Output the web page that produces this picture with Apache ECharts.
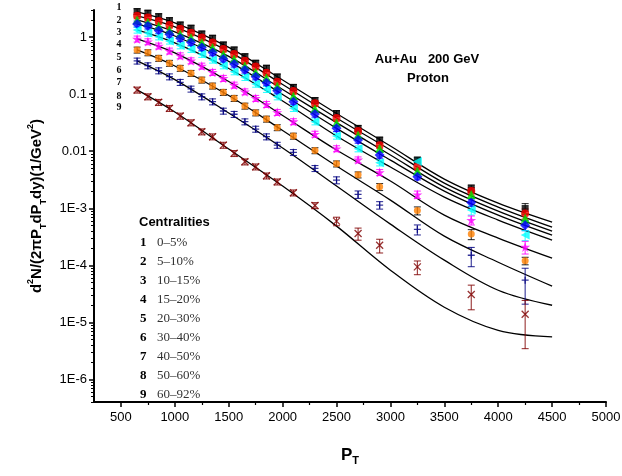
<!DOCTYPE html>
<html>
<head>
<meta charset="utf-8">
<script src="https://cdn.jsdelivr.net/npm/echarts@6/dist/echarts.min.js"></script>
<style>
html, body { margin: 0; padding: 0; background: #fff; }
#chart { width: 622px; height: 476px; }
</style>
</head>
<body>
<div id="chart"></div>
<script>
// Proton transverse-momentum spectra, Au+Au at 200 GeV, nine centrality classes.
const pt = [650, 750, 850, 950, 1050, 1150, 1250, 1350, 1450, 1550, 1650, 1750, 1850, 1950,
            2100, 2300, 2500, 2700, 2900, 3250, 3750, 4250];

const centralities = ['0\u20135%', '5\u201310%', '10\u201315%', '15\u201320%', '20\u201330%',
                      '30\u201340%', '40\u201350%', '50\u201360%', '60\u201392%'];

// measured invariant yields (1/GeV^2)
const y0_5   = [2.82, 2.64, 2.30, 1.96, 1.64, 1.44, 1.14, 0.96, 0.732, 0.598, 0.456, 0.350, 0.286, 0.201, 0.132, 0.0777, 0.0459, 0.0252, 0.0157, 0.0070, 0.00223, 0.00099];
const y5_10  = [2.39, 2.21, 1.93, 1.64, 1.40, 1.20, 0.984, 0.804, 0.623, 0.509, 0.388, 0.305, 0.239, 0.166, 0.114, 0.0694, 0.0383, 0.0226, 0.0128, 0.00534, 0.0020, 0.00081];
const y10_15 = [2.01, 1.83, 1.58, 1.34, 1.14, 0.984, 0.804, 0.657, 0.503, 0.416, 0.317, 0.243, 0.195, 0.140, 0.0932, 0.0557, 0.0317, 0.0193, 0.0112, 0.00449, 0.00175, 0.00067];
const y15_20 = [1.71, 1.58, 1.31, 1.13, 0.96, 0.817, 0.657, 0.537, 0.416, 0.340, 0.267, 0.203, 0.1595, 0.1154, 0.0740, 0.0450, 0.0252, 0.0157, 0.00858, 0.00357, 0.00126, 0.000506];
const y20_30 = [1.34, 1.18, 1.02, 0.861, 0.712, 0.616, 0.503, 0.399, 0.317, 0.249, 0.198, 0.151, 0.122, 0.0906, 0.0566, 0.0330, 0.0185, 0.0111, 0.00628, 0.00659, 0.000928, 0.000338];
const y30_40 = [0.934, 0.837, 0.704, 0.575, 0.475, 0.388, 0.313, 0.243, 0.1906, 0.1453, 0.1109, 0.0849, 0.0666, 0.0482, 0.0332, 0.0200, 0.01115, 0.00709, 0.00426, 0.00174, 0.00062, 0.00021];
const y40_50 = [0.598, 0.537, 0.428, 0.350, 0.286, 0.233, 0.178, 0.140, 0.1082, 0.0849, 0.0622, 0.0474, 0.0368, 0.0261, 0.0185, 0.01029, 0.00603, 0.00387, 0.00238, 0.00091, 0.000352, 0.000120];
const y50_60 = [0.384, 0.317, 0.259, 0.203, 0.162, 0.1237, 0.0906, 0.0740, 0.0508, 0.0445, 0.0330, 0.0245, 0.0180, 0.0128, 0.00957, 0.00501, 0.00312, 0.00175, 0.001136, 0.000425, 0.000150, 0.0000547];
const y60_92 = [0.1188, 0.0906, 0.0722, 0.0566, 0.0415, 0.0317, 0.0220, 0.0180, 0.0128, 0.00919, 0.00654, 0.00534, 0.00371, 0.00291, 0.00187, 0.00112, 0.000595, 0.000362, 0.000225, 0.0000937, 0.0000307, 0.0000138];

// relative uncertainties of the yields
const e0_5   = [0.12, 0.12, 0.12, 0.12, 0.12, 0.12, 0.12, 0.12, 0.12, 0.12, 0.12, 0.12, 0.12, 0.12, 0.12, 0.12, 0.12, 0.12, 0.12, 0.12, 0.15, 0.22];
const e5_10  = [0.12, 0.12, 0.12, 0.12, 0.12, 0.12, 0.12, 0.12, 0.12, 0.12, 0.12, 0.12, 0.12, 0.12, 0.12, 0.12, 0.12, 0.12, 0.12, 0.12, 0.15, 0.2];
const e10_15 = [0.12, 0.12, 0.12, 0.12, 0.12, 0.12, 0.12, 0.12, 0.12, 0.12, 0.12, 0.12, 0.12, 0.12, 0.12, 0.12, 0.12, 0.12, 0.12, 0.12, 0.15, 0.2];
const e15_20 = [0.12, 0.12, 0.12, 0.12, 0.12, 0.12, 0.12, 0.12, 0.12, 0.12, 0.12, 0.12, 0.12, 0.12, 0.12, 0.12, 0.12, 0.12, 0.12, 0.12, 0.15, 0.2];
const e20_30 = [0.12, 0.12, 0.12, 0.12, 0.12, 0.12, 0.12, 0.12, 0.12, 0.12, 0.12, 0.12, 0.12, 0.12, 0.12, 0.12, 0.12, 0.12, 0.12, 0.15, 0.18, 0.2];
const e30_40 = [0.12, 0.12, 0.12, 0.12, 0.12, 0.12, 0.12, 0.12, 0.12, 0.12, 0.12, 0.12, 0.12, 0.12, 0.12, 0.12, 0.12, 0.12, 0.12, 0.15, 0.18, 0.25];
const e40_50 = [0.12, 0.12, 0.12, 0.12, 0.12, 0.12, 0.12, 0.12, 0.12, 0.12, 0.12, 0.12, 0.12, 0.12, 0.12, 0.12, 0.12, 0.12, 0.14, 0.16, 0.2, 0.15];
const e50_60 = [0.12, 0.12, 0.12, 0.12, 0.12, 0.12, 0.12, 0.12, 0.12, 0.12, 0.12, 0.12, 0.12, 0.12, 0.12, 0.12, 0.14, 0.15, 0.15, 0.2, 0.37, 0.62];
const e60_92 = [0.12, 0.12, 0.12, 0.12, 0.12, 0.12, 0.12, 0.12, 0.12, 0.12, 0.12, 0.12, 0.12, 0.12, 0.12, 0.12, 0.17, 0.24, 0.27, 0.27, 0.46, 0.75];

// fitted model curves, sampled along pT
const fitPt = [650, 1000, 1500, 2000, 2500, 3000, 3500, 4000, 4500];
const f0_5   = [2.78, 1.78, 0.662, 0.178, 0.0459, 0.01234, 0.00325, 0.00123, 0.000571];
const f5_10  = [2.37, 1.52, 0.563, 0.148, 0.0383, 0.0105, 0.00276, 0.00105, 0.000467];
const f10_15 = [2.01, 1.24, 0.460, 0.121, 0.0317, 0.00858, 0.00235, 0.00089, 0.000397];
const f15_20 = [1.71, 1.05, 0.376, 0.099, 0.0252, 0.0070, 0.0020, 0.000758, 0.000338];
const f20_30 = [1.34, 0.794, 0.283, 0.0761, 0.0185, 0.00528, 0.00157, 0.00062, 0.000276];
const f30_40 = [0.934, 0.530, 0.1675, 0.0423, 0.0105, 0.0030, 0.000758, 0.000299, 0.000133];
const f40_50 = [0.598, 0.313, 0.0951, 0.0231, 0.0055, 0.00139, 0.000324, 0.000113, 0.0000430];
const f50_60 = [0.384, 0.18, 0.0469, 0.01138, 0.00245, 0.000527, 0.000123, 0.0000365, 0.0000199];
const f60_92 = [0.119, 0.0488, 0.01093, 0.00245, 0.000486, 0.0000820, 0.0000184, 0.00000725, 0.00000557];

// axis tick labels
const xTickLabels = [500, 1000, 1500, 2000, 2500, 3000, 3500, 4000, 4500, 5000];
const xMinorTicks = [750, 1250, 1750, 2250, 2750, 3250, 3750, 4250, 4750];
const yTickLabels = [1e-6, 1e-5, 1e-4, 1e-3, 0.01, 0.1, 1];

const yields = [y0_5, y5_10, y10_15, y15_20, y20_30, y30_40, y40_50, y50_60, y60_92];
const errs   = [e0_5, e5_10, e10_15, e15_20, e20_30, e30_40, e40_50, e50_60, e60_92];
const fits   = [f0_5, f5_10, f10_15, f15_20, f20_30, f30_40, f40_50, f50_60, f60_92];

const Y_MIN = 4e-7, Y_MAX = 3;

const styles = [
  { color: '#000000', symbol: 'rect', size: 7 },
  { color: '#ff0000', symbol: 'circle', size: 8 },
  { color: '#00e000', symbol: 'triangle', size: 9 },
  { color: '#0000ff', symbol: 'diamond', size: 10 },
  { color: '#00ffff', symbol: 'triangle', size: 9, rotate: 90 },
  { color: '#ff00ff', symbol: 'path://M50,0L61,35L98,35L68,57L79,91L50,70L21,91L32,57L2,35L39,35Z', size: 10 },
  { color: '#ff8000', symbol: 'circle', size: 7, bar: '#000000' },
  { color: '#000080', symbol: 'path://M5,0L5,10M0,5L10,5', size: 7, line: true },
  { color: '#800000', symbol: 'path://M0,0L10,10M10,0L0,10', size: 7, line: true }
];

const yMinor = [];
for (let k = -7; k <= 0; k++) {
  for (let m = 2; m <= 9; m++) {
    const v = m * Math.pow(10, k);
    if (v >= Y_MIN && v <= Y_MAX) yMinor.push(v);
  }
}

function fmtY(v) {
  const e = Math.round(Math.log10(v));
  if (e >= 0) return '1';
  if (e === -1) return '0.1';
  if (e === -2) return '0.01';
  return '1E' + e;
}

function fmtX(v) {
  return String(Math.round(v));
}

function errorBarItem(color) {
  return function (params, api) {
    const x = api.value(0);
    const lo = api.coord([x, api.value(1)]);
    const hi = api.coord([x, api.value(2)]);
    const w = 3.5;
    const st = { stroke: color, lineWidth: 1.1, opacity: 0.8 };
    return {
      type: 'group',
      children: [
        { type: 'line', shape: { x1: lo[0], y1: lo[1], x2: hi[0], y2: hi[1] }, style: st },
        { type: 'line', shape: { x1: lo[0] - w, y1: lo[1], x2: lo[0] + w, y2: lo[1] }, style: st },
        { type: 'line', shape: { x1: hi[0] - w, y1: hi[1], x2: hi[0] + w, y2: hi[1] }, style: st }
      ]
    };
  };
}

const series = [];
fits.forEach(function (f) {
  series.push({
    type: 'line',
    data: fitPt.map(function (x, i) { return [x, f[i]]; }),
    smooth: 0.35,
    symbol: 'none',
    lineStyle: { color: '#000', width: 1.3 },
    z: 2,
    silent: true
  });
});
yields.forEach(function (ys, s) {
  const st = styles[s];
  series.push({
    type: 'custom',
    renderItem: errorBarItem(st.bar || st.color),
    data: pt.map(function (x, i) { return [x, ys[i] * (1 - errs[s][i]), ys[i] * (1 + errs[s][i])]; }),
    encode: { x: 0, y: [1, 2] },
    z: 3,
    silent: true
  });
  series.push({
    type: 'scatter',
    data: pt.map(function (x, i) { return [x, ys[i]]; }),
    symbol: st.symbol,
    symbolSize: st.size,
    symbolRotate: st.rotate || 0,
    itemStyle: st.line
      ? { color: 'none', borderColor: st.color, borderWidth: 1.3 }
      : { color: st.color },
    z: 4,
    silent: true
  });
});

const textFont = 'Liberation Sans, Arial, sans-serif';
const serifFont = 'Liberation Serif, Times New Roman, serif';

const graphics = [];
// curve index column
const idxY = [7, 20, 32, 44, 57, 70, 82, 96, 107];
idxY.forEach(function (y, i) {
  graphics.push({ type: 'text', x: 119, y: y, style: {
    text: String(i + 1), font: 'bold 10px ' + serifFont, fill: '#000',
    textAlign: 'center', textVerticalAlign: 'middle' } });
});
// title
graphics.push({ type: 'text', x: 427, y: 59, style: {
  text: 'Au+Au   200 GeV', font: 'bold 13px ' + textFont, fill: '#000',
  textAlign: 'center', textVerticalAlign: 'middle' } });
graphics.push({ type: 'text', x: 428, y: 78, style: {
  text: 'Proton', font: 'bold 13px ' + textFont, fill: '#000',
  textAlign: 'center', textVerticalAlign: 'middle' } });
// centrality key
graphics.push({ type: 'text', x: 139, y: 222, style: {
  text: 'Centralities', font: 'bold 13px ' + textFont, fill: '#000',
  textAlign: 'left', textVerticalAlign: 'middle' } });
centralities.forEach(function (c, i) {
  const y = 243 + i * 19;
  graphics.push({ type: 'text', x: 140, y: y, style: {
    text: String(i + 1), font: 'bold 13px ' + serifFont, fill: '#000',
    textAlign: 'left', textVerticalAlign: 'middle' } });
  graphics.push({ type: 'text', x: 157, y: y, style: {
    text: c, font: '13px ' + serifFont, fill: '#333',
    textAlign: 'left', textVerticalAlign: 'middle' } });
});

const chart = echarts.init(document.getElementById('chart'), null, { renderer: 'canvas' });
chart.setOption({
  animation: false,
  backgroundColor: '#fff',
  grid: { left: 94, right: 16, top: 10, bottom: 74, containLabel: false, outerBoundsMode: 'none' },
  xAxis: [{
    type: 'value', min: 250, max: 5000,
    axisLine: { show: true, onZero: false, lineStyle: { color: '#000', width: 2 } },
    axisTick: { show: true, customValues: xTickLabels, length: 5, lineStyle: { color: '#000', width: 1.5 } },
    axisLabel: { customValues: xTickLabels, formatter: fmtX, fontSize: 13, color: '#000', margin: 9, fontFamily: textFont },
    splitLine: { show: false },
    name: '{p|P}{t|T}', nameLocation: 'middle', nameGap: 42,
    nameTextStyle: {
      rich: {
        p: { fontSize: 17, fontWeight: 'bold', fontFamily: textFont, color: '#000', lineHeight: 22 },
        t: { fontSize: 11, fontWeight: 'bold', fontFamily: textFont, color: '#000', verticalAlign: 'bottom', lineHeight: 10 }
      }
    }
  }, {
    type: 'value', min: 250, max: 5000, position: 'bottom',
    axisLine: { show: false },
    axisTick: { show: true, customValues: xMinorTicks, length: 3, lineStyle: { color: '#000', width: 1.2 } },
    axisLabel: { show: false },
    splitLine: { show: false }
  }],
  yAxis: [{
    type: 'log', logBase: 10, min: Y_MIN, max: Y_MAX,
    axisLine: { show: true, onZero: false, lineStyle: { color: '#000', width: 2 } },
    axisTick: { show: true, customValues: yTickLabels, length: 5, lineStyle: { color: '#000', width: 1.5 } },
    axisLabel: { customValues: yTickLabels, formatter: fmtY, fontSize: 13, color: '#000', margin: 7, fontFamily: textFont },
    splitLine: { show: false },
    name: '{a|d}{sp|2}{a|N/(2\u03c0P}{sb|T}{a|dP}{sb|T}{a|dy)(1/GeV}{sp|2}{a|)}',
    nameLocation: 'middle', nameGap: 46, nameRotate: 90,
    nameTextStyle: {
      rich: {
        a: { fontSize: 15, fontWeight: 'bold', fontFamily: textFont, color: '#000', lineHeight: 22 },
        sp: { fontSize: 9, fontWeight: 'bold', fontFamily: textFont, color: '#000', verticalAlign: 'top', lineHeight: 12 },
        sb: { fontSize: 9, fontWeight: 'bold', fontFamily: textFont, color: '#000', verticalAlign: 'bottom', lineHeight: 10 }
      }
    }
  }, {
    type: 'log', logBase: 10, min: Y_MIN, max: Y_MAX, position: 'left',
    axisLine: { show: false },
    axisTick: { show: true, customValues: yMinor, length: 3, lineStyle: { color: '#000', width: 1 } },
    axisLabel: { show: false },
    splitLine: { show: false }
  }],
  series: series,
  graphic: graphics
});
</script>
</body>
</html>
